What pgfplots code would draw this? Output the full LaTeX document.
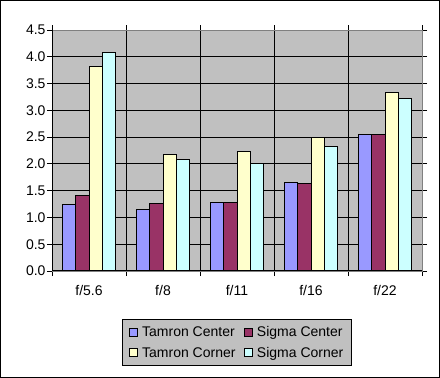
\documentclass[border=0pt]{standalone}
\usepackage{pgfplots}
\pgfplotsset{compat=1.18}
\usepackage{fontspec}
\setmainfont{Liberation Sans}
\definecolor{c1}{HTML}{9999FF}
\definecolor{c2}{HTML}{993366}
\definecolor{c3}{HTML}{FFFFCC}
\definecolor{c4}{HTML}{CCFFFF}
\definecolor{bgc}{HTML}{C0C0C0}
\definecolor{edge}{HTML}{808080}
\newcommand{\chfont}{\fontsize{14bp}{16bp}\selectfont}
\pgfplotsset{sqleg/.style={legend image code/.code={\draw[##1, line width=1bp] (0bp,-4bp) rectangle (8bp,4bp);}}}
\begin{document}
\begin{tikzpicture}[font=\chfont]
\useasboundingbox (0,0) rectangle (440bp,378bp);
\fill[white] (0,0) rectangle (440bp,378bp);
\draw[line width=1bp] (0.5bp,0.5bp) rectangle (439.5bp,377.5bp);
\begin{axis}[
 name=ax,
 at={(52bp,107bp)}, anchor=south west,
 scale only axis, width=370bp, height=241bp,
 xmin=-0.5, xmax=4.5, ymin=0, ymax=4.5,
 axis background/.style={fill=bgc},
 ybar=0pt, bar width=0.18,
 xtick={0,...,4}, xticklabels={f/5.6,f/8,f/11,f/16,f/22},
 major x tick style={draw=none},
 minor xtick={-0.5,0.5,...,4.5},
 xminorgrids, minor x grid style={black, line width=1bp},
 ytick={0,0.5,...,4.5}, ymajorgrids, major y grid style={black, line width=1bp},
 tick align=outside, tick style={black, line width=1bp},
 minor tick length=5bp, major tick length=5bp,
 tick label style={font=\chfont},
 yticklabel style={/pgf/number format/fixed, /pgf/number format/fixed zerofill, /pgf/number format/precision=1, xshift=2bp},
 /pgf/number format/assume math mode=true,
 xticklabel style={yshift=-6bp},
 axis line style={draw=edge, line width=1bp},
 legend columns=2,
 legend style={at={(0.5,-0.199)}, anchor=north, fill=bgc, draw=black, line width=1bp,
   font=\chfont, inner xsep=6bp, inner ysep=5bp, row sep=5bp,
   /tikz/every odd column/.append style={column sep=2.5bp},
   /tikz/every even column/.append style={column sep=6bp}},
 legend cell align=left,
]
\addplot[fill=c1, draw=black, line width=1bp, sqleg] coordinates {(0,1.24) (1,1.15) (2,1.28) (3,1.65) (4,2.55)};
\addplot[fill=c2, draw=black, line width=1bp, sqleg] coordinates {(0,1.41) (1,1.26) (2,1.28) (3,1.64) (4,2.55)};
\addplot[fill=c3, draw=black, line width=1bp, sqleg] coordinates {(0,3.82) (1,2.18) (2,2.23) (3,2.49) (4,3.33)};
\addplot[fill=c4, draw=black, line width=1bp, sqleg] coordinates {(0,4.08) (1,2.08) (2,2.01) (3,2.33) (4,3.22)};
\legend{Tamron Center,Sigma Center,Tamron Corner,Sigma Corner}
\end{axis}
\draw[black, line width=1bp] (ax.north west) -- (ax.south west) -- (ax.south east);
\end{tikzpicture}
\end{document}
